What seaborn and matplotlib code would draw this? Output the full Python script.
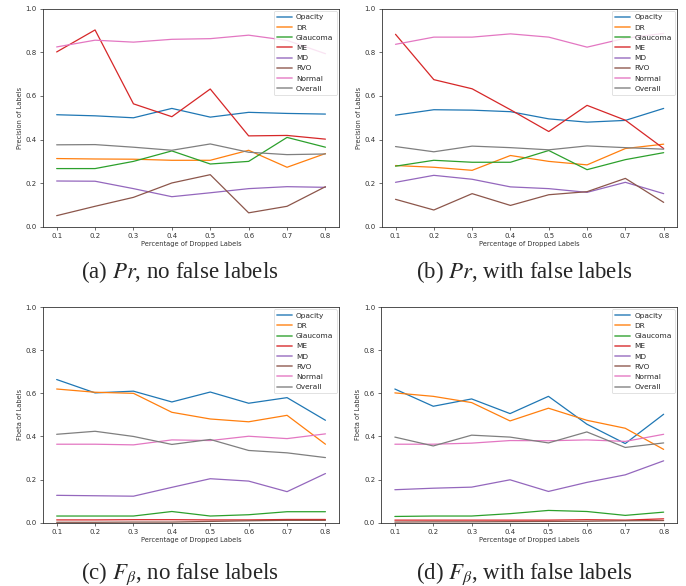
import matplotlib
matplotlib.use("Agg")
import matplotlib.pyplot as plt
import numpy as np
import pandas as pd
import seaborn as sns

drop_pct = [0.1, 0.2, 0.3, 0.4, 0.5, 0.6, 0.7, 0.8]
classes = ["Opacity", "DR", "Glaucoma", "ME", "MD", "RVO", "Normal", "Overall"]

# (a) precision, no false labels
pr_clean = {
    "Opacity":  [0.514, 0.509, 0.500, 0.543, 0.503, 0.525, 0.520, 0.517],
    "DR":       [0.313, 0.311, 0.310, 0.305, 0.305, 0.351, 0.273, 0.336],
    "Glaucoma": [0.267, 0.267, 0.300, 0.348, 0.288, 0.300, 0.410, 0.365],
    "ME":       [0.802, 0.903, 0.564, 0.505, 0.632, 0.417, 0.419, 0.402],
    "MD":       [0.210, 0.209, 0.175, 0.138, 0.156, 0.175, 0.184, 0.181],
    "RVO":      [0.051, 0.094, 0.135, 0.201, 0.239, 0.064, 0.094, 0.184],
    "Normal":   [0.825, 0.856, 0.847, 0.860, 0.863, 0.879, 0.855, 0.794],
    "Overall":  [0.376, 0.377, 0.365, 0.351, 0.380, 0.342, 0.331, 0.334],
}

# (b) precision, with false labels
pr_noisy = {
    "Opacity":  [0.512, 0.537, 0.535, 0.528, 0.495, 0.480, 0.488, 0.543],
    "DR":       [0.281, 0.273, 0.259, 0.327, 0.300, 0.284, 0.359, 0.379],
    "Glaucoma": [0.278, 0.305, 0.296, 0.296, 0.350, 0.262, 0.308, 0.340],
    "ME":       [0.883, 0.675, 0.633, 0.537, 0.437, 0.557, 0.489, 0.359],
    "MD":       [0.204, 0.236, 0.218, 0.183, 0.175, 0.158, 0.204, 0.152],
    "RVO":      [0.126, 0.077, 0.152, 0.098, 0.147, 0.161, 0.222, 0.112],
    "Normal":   [0.837, 0.870, 0.870, 0.885, 0.870, 0.824, 0.865, 0.887],
    "Overall":  [0.368, 0.344, 0.370, 0.363, 0.353, 0.371, 0.363, 0.356],
}

# (c) fbeta, no false labels
fb_clean = {
    "Opacity":  [0.664, 0.602, 0.610, 0.560, 0.606, 0.554, 0.580, 0.475],
    "DR":       [0.620, 0.605, 0.600, 0.512, 0.481, 0.468, 0.498, 0.364],
    "Glaucoma": [0.031, 0.031, 0.031, 0.052, 0.031, 0.037, 0.051, 0.051],
    "ME":       [0.013, 0.013, 0.014, 0.014, 0.013, 0.013, 0.015, 0.015],
    "MD":       [0.127, 0.125, 0.123, 0.164, 0.204, 0.193, 0.144, 0.228],
    "RVO":      [0.002, 0.002, 0.003, 0.003, 0.006, 0.009, 0.011, 0.011],
    "Normal":   [0.364, 0.364, 0.361, 0.384, 0.381, 0.401, 0.390, 0.412],
    "Overall":  [0.410, 0.424, 0.400, 0.363, 0.386, 0.335, 0.324, 0.302],
}

# (d) fbeta, with false labels
fb_noisy = {
    "Opacity":  [0.620, 0.540, 0.574, 0.506, 0.586, 0.457, 0.367, 0.503],
    "DR":       [0.602, 0.586, 0.557, 0.472, 0.531, 0.475, 0.438, 0.340],
    "Glaucoma": [0.029, 0.031, 0.031, 0.042, 0.057, 0.052, 0.034, 0.049],
    "ME":       [0.012, 0.012, 0.012, 0.012, 0.012, 0.014, 0.012, 0.018],
    "MD":       [0.153, 0.160, 0.165, 0.199, 0.145, 0.187, 0.222, 0.287],
    "RVO":      [0.003, 0.004, 0.004, 0.005, 0.006, 0.007, 0.009, 0.010],
    "Normal":   [0.364, 0.364, 0.369, 0.381, 0.380, 0.384, 0.377, 0.410],
    "Overall":  [0.397, 0.356, 0.406, 0.397, 0.370, 0.421, 0.349, 0.370],
}

captions = [
    "(a) $Pr$, no false labels",
    "(b) $Pr$, with false labels",
    "(c) $F_\\beta$, no false labels",
    "(d) $F_\\beta$, with false labels",
]
ylabels = ["Precision of Labels", "Precision of Labels", "Fbeta of Labels", "Fbeta of Labels"]

sns.set_style("ticks")
plt.rcParams["mathtext.fontset"] = "stix"

fig = plt.figure(figsize=(6.86, 5.86), dpi=100)

# axes rectangles in figure fractions, plus caption anchor
panels = [
    (pr_clean, [0.063, 0.613, 0.431, 0.372], (0.262, 0.536)),
    (pr_noisy, [0.557, 0.613, 0.430, 0.372], (0.764, 0.536)),
    (fb_clean, [0.063, 0.108, 0.431, 0.368], (0.262, 0.021)),
    (fb_noisy, [0.556, 0.108, 0.431, 0.368], (0.764, 0.021)),
]

palette = sns.color_palette("tab10", len(classes))

for i, (data, rect, cap_xy) in enumerate(panels):
    ax = fig.add_axes(rect)
    df = pd.DataFrame(data, index=drop_pct).reset_index(names="pct")
    long = df.melt(id_vars="pct", var_name="label", value_name="value")
    sns.lineplot(data=long, x="pct", y="value", hue="label", hue_order=classes,
                 palette=palette, linewidth=0.9, ax=ax)
    ax.set_ylim(0, 1.0)
    ax.set_xlim(0.065, 0.835)
    ax.set_xticks(drop_pct)
    ax.set_xticklabels([f"{v:.1f}" for v in drop_pct])
    ax.set_yticks(np.arange(0, 1.01, 0.2))
    ax.tick_params(labelsize=5, length=2.5, width=0.5, pad=2, colors="#333333")
    for sp in ax.spines.values():
        sp.set_linewidth(0.6)
        sp.set_color("#333333")
    ax.set_xlabel("Percentage of Dropped Labels", fontsize=4.8, labelpad=1.5, color="#333333")
    ax.set_ylabel(ylabels[i], fontsize=4.8, labelpad=2, color="#333333")
    leg = ax.legend(loc="upper right", fontsize=5.3, frameon=True, handlelength=2.0,
                    handletextpad=0.6, borderpad=0.45, labelspacing=0.55, borderaxespad=0.3)
    leg.get_frame().set_linewidth(0.5)
    for line in leg.get_lines():
        line.set_linewidth(1.3)
        line.set_alpha(0.75)
    fig.text(cap_xy[0], cap_xy[1], captions[i], ha="center", va="center",
             fontsize=16.5, family="Liberation Serif")

fig.savefig("out.png", dpi=100)
